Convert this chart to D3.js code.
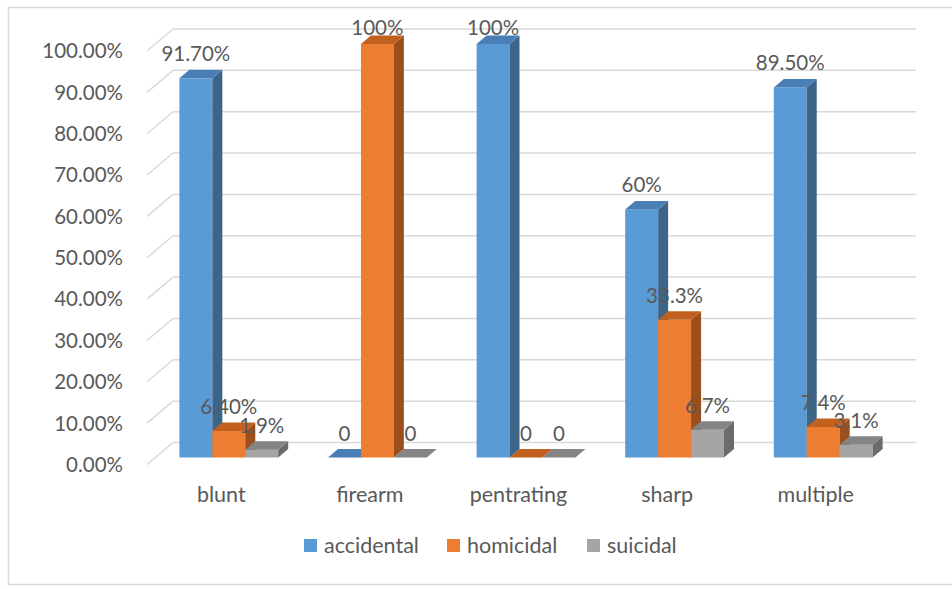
<!DOCTYPE html>
<html lang="en">
<head>
    <meta charset="UTF-8">
    <title>Injury manner by type</title>
    <script src="https://d3js.org/d3.v7.min.js"></script>
    <style>
        body {
            margin: 0;
            background: #ffffff;
        }
        svg text {
            font-family: Lato, "Open Sans", sans-serif;
            fill: #595959;
        }
    </style>
</head>
<body>
    <svg id="chart" width="952" height="589"></svg>
    <script>
        // data
        const categories = ["blunt", "firearm", "pentrating", "sharp", "multiple"];
        const seriesNames = ["accidental", "homicidal", "suicidal"];
        const accidental = [0.917, 0, 1.00, 0.60, 0.895];
        const homicidal = [0.064, 1.00, 0, 0.333, 0.074];
        const suicidal = [0.019, 0, 0, 0.067, 0.031];
        // data labels as printed on the bars
        const accidentalLabels = ["91.70%", "0", "100%", "60%", "89.50%"];
        const homicidalLabels = ["6.40%", "100%", "0", "33.3%", "7.4%"];
        const suicidalLabels = ["1.9%", "0", "0", "6.7%", "3.1%"];
        const yTicks = [0, 0.1, 0.2, 0.3, 0.4, 0.5, 0.6, 0.7, 0.8, 0.9, 1.0];

        const values = [accidental, homicidal, suicidal];
        const labels = [accidentalLabels, homicidalLabels, suicidalLabels];

        // colours: front, top, side
        const colors = [
            { front: "#5b9bd5", top: "#4a7fb5", side: "#3b6589" },
            { front: "#ed7d31", top: "#c2611f", side: "#9a4f1c" },
            { front: "#a5a5a5", top: "#848484", side: "#6b6b6b" }
        ];

        const svg = d3.select("#chart");

        // outer chart frame
        svg.append("rect")
            .attr("x", 8.5).attr("y", 7.5)
            .attr("width", 960).attr("height", 577)
            .attr("fill", "none")
            .attr("stroke", "#d9d9d9")
            .attr("stroke-width", 1.5);

        // back wall plane
        const wall = { x0: 173, x1: 916 };
        const y = d3.scaleLinear().domain([0, 1]).range([442.5, 29]);

        // offsets of the other depth planes relative to the back wall
        const frontOff = { dx: -26, dy: 22 };   // axis labels plane
        const barOff = { dx: -18.5, dy: 15 };   // bar front faces
        const depth = { dx: 10, dy: -8.5 };     // bar thickness

        const x = d3.scaleBand()
            .domain(categories)
            .range([wall.x0, wall.x1])
            .paddingInner(0.335)
            .paddingOuter(0.1675);

        const xs = d3.scaleBand()
            .domain(seriesNames)
            .range([0, x.bandwidth()]);

        // gridlines on the wall + diagonal on the side wall
        const grid = svg.append("g")
            .attr("stroke", "#d9d9d9")
            .attr("stroke-width", 1.5)
            .attr("fill", "none");
        yTicks.forEach(t => {
            grid.append("line")
                .attr("x1", wall.x0).attr("x2", wall.x1)
                .attr("y1", y(t)).attr("y2", y(t));
            grid.append("line")
                .attr("x1", wall.x0 + frontOff.dx).attr("y1", y(t) + frontOff.dy)
                .attr("x2", wall.x0).attr("y2", y(t));
        });

        // y axis labels
        svg.append("g").selectAll("text")
            .data(yTicks)
            .enter()
            .append("text")
            .attr("x", 123)
            .attr("y", d => y(d) + frontOff.dy)
            .attr("dy", "0.36em")
            .attr("text-anchor", "end")
            .style("font-size", "20.5px")
            .text(d => d3.format(".2%")(d));

        // bars
        const yb = v => y(v) + barOff.dy;
        const pts = p => p.map(d => d.join(",")).join(" ");
        const bars = svg.append("g");
        const labelData = [];

        categories.forEach((c, i) => {
            seriesNames.forEach((s, j) => {
                const v = values[j][i];
                const x0 = x(c) + xs(s) + barOff.dx;
                const w = xs.bandwidth();
                const top = yb(v), base = yb(0);
                const col = colors[j];

                if (v > 0) {
                    bars.append("rect")
                        .attr("x", x0).attr("y", top)
                        .attr("width", w).attr("height", base - top)
                        .attr("fill", col.front);
                    bars.append("polygon")
                        .attr("points", pts([[x0 + w, top], [x0 + w + depth.dx, top + depth.dy],
                            [x0 + w + depth.dx, base + depth.dy], [x0 + w, base]]))
                        .attr("fill", col.side);
                }
                bars.append("polygon")
                    .attr("points", pts([[x0, top], [x0 + depth.dx, top + depth.dy],
                        [x0 + w + depth.dx, top + depth.dy], [x0 + w, top]]))
                    .attr("fill", col.top);

                labelData.push({
                    x: x0 + w / 2,
                    y: Math.max(35, top - 17),
                    text: labels[j][i]
                });
            });
        });

        // data labels
        svg.append("g").selectAll("text")
            .data(labelData)
            .enter()
            .append("text")
            .attr("x", d => d.x)
            .attr("y", d => d.y)
            .attr("text-anchor", "middle")
            .style("font-size", "20.5px")
            .text(d => d.text);

        // category labels
        svg.append("g").selectAll("text")
            .data(categories)
            .enter()
            .append("text")
            .attr("x", d => x(d) + x.bandwidth() / 2 + frontOff.dx)
            .attr("y", 502)
            .attr("text-anchor", "middle")
            .style("font-size", "21.5px")
            .text(d => d);

        // legend
        const legendX = [304, 447, 587];
        const legend = svg.append("g").selectAll("g")
            .data(seriesNames)
            .enter()
            .append("g")
            .attr("transform", (d, i) => `translate(${legendX[i]},539)`);
        legend.append("rect")
            .attr("width", 13).attr("height", 13)
            .attr("fill", (d, i) => colors[i].front);
        legend.append("text")
            .attr("x", 20).attr("y", 14)
            .style("font-size", "21.5px")
            .text(d => d);
    </script>
</body>
</html>
